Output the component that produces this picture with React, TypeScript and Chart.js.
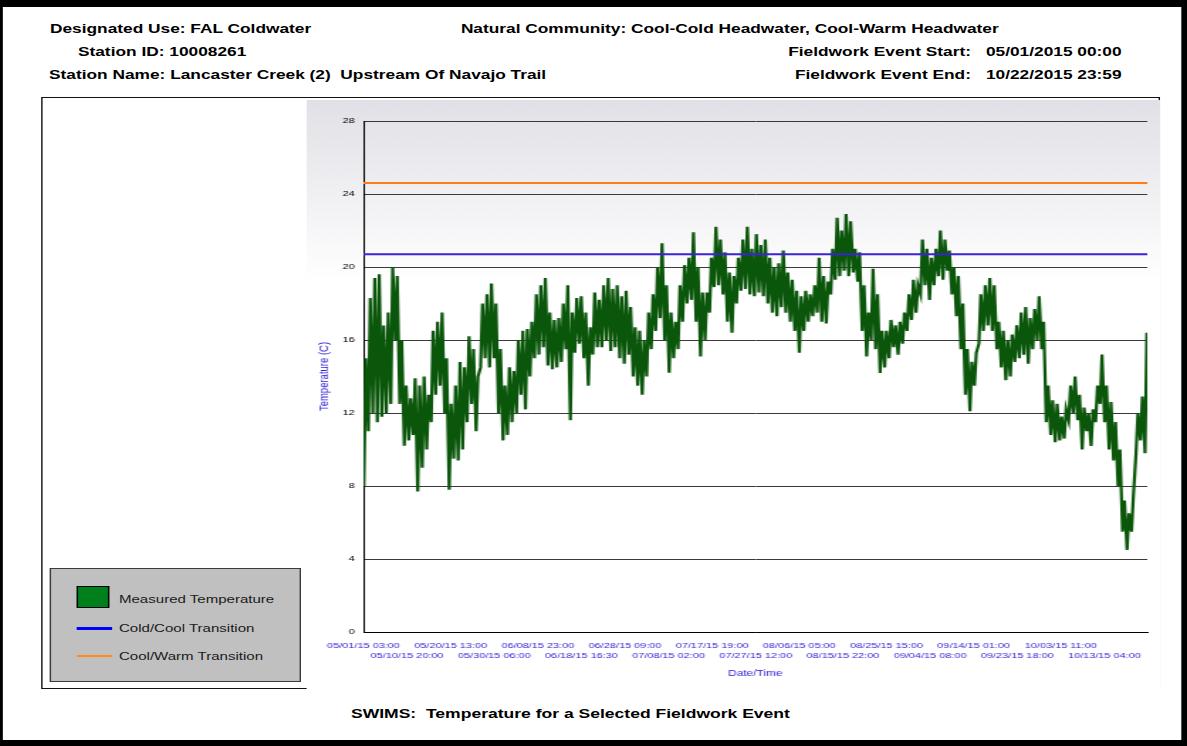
import React, { useEffect, useRef } from 'react';
import { Chart, registerables } from 'chart.js';

Chart.register(...registerables);

// Daily minimum / maximum water temperature (°C), one entry per day from 05/01/2015
const dailyLow = [
  8.0, 11.0, 12.0, 11.5, 11.8, 12.0, 12.5, 16.0, 12.5, 10.2,
  10.5, 10.8, 7.7, 9.0, 10.0, 11.5, 13.0, 13.5, 12.0, 7.8,
  9.5, 9.4, 10.0, 11.5, 12.5, 11.0, 14.5, 15.0, 14.5, 15.0,
  12.0, 10.5, 10.8, 11.5, 12.0, 13.0, 12.2, 14.0, 15.0, 15.2,
  15.6, 14.6, 14.4, 14.5, 14.8, 15.5, 11.6, 15.3, 15.8, 15.0,
  13.5, 15.2, 15.6, 15.6, 16.0, 15.4, 15.6, 15.0, 14.7, 15.2,
  14.0, 13.5, 13.0, 14.0, 15.5, 16.5, 17.2, 16.0, 14.2, 15.0,
  15.5, 17.0, 18.0, 18.2, 17.0, 15.1, 16.0, 17.5, 18.9, 19.0,
  18.5, 17.0, 16.4, 18.0, 18.7, 18.8, 18.5, 18.4, 18.6, 18.4,
  18.0, 17.5, 17.3, 17.8, 17.5, 17.0, 16.5, 15.3, 16.5, 17.0,
  17.3, 17.5, 17.0, 16.9, 18.5, 19.3, 19.5, 19.8, 19.5, 19.7,
  19.2, 16.5, 15.1, 16.0, 15.5, 14.2, 14.5, 15.0, 15.6, 15.2,
  15.8, 16.5, 17.1, 17.5, 18.5, 19.0, 18.2, 19.0, 19.5, 19.3,
  19.8, 18.5, 17.3, 15.5, 13.0, 12.1, 13.5, 15.8, 16.5, 16.8,
  16.5, 15.5, 14.5, 13.8, 14.0, 14.8, 15.0, 15.2, 14.7, 15.5,
  16.0, 15.5, 11.5, 10.8, 10.4, 10.5, 10.6, 11.6, 12.0, 11.6,
  10.0, 11.0, 10.2, 11.5, 12.5, 11.5, 10.0, 9.4, 8.0, 5.5,
  4.5, 5.5, 9.8, 10.5, 9.8,
];

const dailyHigh = [
  15.0, 18.3, 19.4, 19.6, 16.8, 17.5, 20.0, 19.5, 16.0, 13.5,
  12.8, 13.9, 13.5, 14.0, 13.0, 16.5, 17.0, 17.5, 15.0, 12.5,
  13.5, 14.8, 14.5, 16.2, 15.5, 14.0, 18.0, 18.5, 19.1, 18.0,
  15.5, 13.5, 14.5, 14.3, 16.0, 16.5, 16.6, 17.0, 18.5, 19.0,
  19.4, 17.5, 17.1, 17.2, 18.0, 19.0, 17.5, 18.3, 18.4, 17.5,
  16.7, 18.6, 18.2, 19.0, 19.4, 18.8, 19.0, 18.4, 18.7, 17.8,
  16.7, 16.5, 16.0, 17.5, 18.5, 20.0, 21.3, 19.0, 17.5, 17.0,
  19.0, 20.1, 20.5, 21.9, 20.0, 18.6, 18.6, 20.5, 22.2, 21.5,
  20.8, 19.7, 19.5, 20.5, 21.5, 22.2, 21.0, 21.8, 21.2, 21.5,
  20.5, 20.0, 20.2, 20.9, 19.7, 19.3, 18.7, 18.4, 18.7, 18.5,
  19.0, 20.5, 19.5, 19.2, 21.0, 22.7, 22.0, 22.9, 22.5, 21.0,
  20.8, 19.0, 17.5, 19.9, 18.5, 16.5, 16.5, 17.1, 16.8, 17.0,
  17.5, 18.5, 19.3, 19.0, 21.5, 21.0, 20.5, 21.0, 22.0, 21.5,
  20.9, 20.0, 19.5, 18.0, 15.5, 14.8, 15.3, 18.5, 19.0, 19.4,
  19.0, 17.0, 16.5, 16.0, 16.3, 16.8, 17.5, 17.8, 17.2, 17.7,
  18.4, 17.0, 13.5, 12.7, 12.5, 11.8, 12.2, 13.5, 14.0, 13.0,
  12.3, 12.0, 12.2, 13.5, 15.2, 13.5, 12.6, 11.5, 10.0, 7.2,
  6.5, 7.5, 12.0, 12.9, 16.4,
];

// Transition thresholds (°C)
const coldCoolTransition = 20.7;
const coolWarmTransition = 24.6;

// Time axis: hours elapsed since 05/01/15 03:00
const xEndHour = 4190;
const xTickHours = [0, 233, 466, 699, 932, 1165, 1398, 1631, 1864, 2097, 2330, 2563, 2796, 3029, 3262, 3495, 3728, 3961];
const xTickLabels = [
  '05/01/15 03:00', '05/10/15 20:00', '05/20/15 13:00', '05/30/15 06:00',
  '06/08/15 23:00', '06/18/15 16:30', '06/28/15 09:00', '07/08/15 02:00',
  '07/17/15 19:00', '07/27/15 12:00', '08/06/15 05:00', '08/15/15 22:00',
  '08/25/15 15:00', '09/04/15 08:00', '09/14/15 01:00', '09/23/15 18:00',
  '10/03/15 11:00', '10/13/15 04:00',
];

const FONT = "'Liberation Sans', Arial, Helvetica, sans-serif";
const AXIS_BLUE = '#2f1ed6';
const PAGE_W = 836;
const PAGE_H = 746;
const STRETCH = 1187 / PAGE_W;

const panelGradient = {
  id: 'panelGradient',
  beforeDraw(chart: any) {
    const { ctx, width, height } = chart;
    const g = ctx.createLinearGradient(0, 0, 0, 180);
    g.addColorStop(0, '#e0e0e6');
    g.addColorStop(1, '#ffffff');
    ctx.save();
    ctx.fillStyle = g;
    ctx.fillRect(0, 0, width, height);
    ctx.restore();
  },
};

function TemperatureChart() {
  const canvasRef = useRef<HTMLCanvasElement | null>(null);

  useEffect(() => {
    if (!canvasRef.current) return;
    // low reading early in the day, high reading in the afternoon
    const tempPoints = dailyLow.flatMap((lo, d) => [
      { x: d * 24 + 2, y: lo },
      { x: d * 24 + 12, y: dailyHigh[d] },
    ]);

    const chart = new Chart(canvasRef.current, {
      type: 'line',
      data: {
        datasets: [
          {
            label: 'Cold/Cool Transition',
            data: [{ x: 0, y: coldCoolTransition }, { x: xEndHour, y: coldCoolTransition }],
            borderColor: '#3b22d9',
            borderWidth: 2,
            pointRadius: 0,
          },
          {
            label: 'Cool/Warm Transition',
            data: [{ x: 0, y: coolWarmTransition }, { x: xEndHour, y: coolWarmTransition }],
            borderColor: '#ff7b1c',
            borderWidth: 2,
            pointRadius: 0,
          },
          {
            label: 'Measured Temperature',
            data: tempPoints,
            borderColor: '#0a560a',
            backgroundColor: '#00801a',
            borderWidth: 2.2,
            pointRadius: 0,
            tension: 0,
          },
        ],
      },
      options: {
        responsive: false,
        animation: false,
        layout: { padding: { top: 21, right: 9, left: 0, bottom: 0 } },
        plugins: { legend: { display: false }, tooltip: { enabled: false } },
        scales: {
          x: {
            type: 'linear',
            min: 0,
            max: xEndHour,
            afterBuildTicks: (s: any) => {
              s.ticks = xTickHours.map((v) => ({ value: v }));
            },
            afterFit: (s: any) => {
              s.height = 58;
            },
            grid: { display: false, drawTicks: false },
            border: { display: true, color: '#000', width: 1 },
            ticks: {
              autoSkip: false,
              maxRotation: 0,
              minRotation: 0,
              padding: 9,
              color: AXIS_BLUE,
              font: { family: FONT, size: 7.7, lineHeight: 1.3 },
              callback: (_v: any, i: number) =>
                i % 2 === 0 ? [xTickLabels[i], ''] : ['', xTickLabels[i]],
            },
            title: {
              display: true,
              text: 'Date/Time',
              color: AXIS_BLUE,
              font: { family: FONT, size: 8.4 },
              padding: { top: 0, bottom: 11 },
            },
          },
          y: {
            min: 0,
            max: 28,
            afterFit: (s: any) => {
              s.width = 40;
            },
            ticks: { stepSize: 4, padding: 6, color: '#000', font: { family: FONT, size: 7.9 } },
            grid: { color: '#3a3a3a', lineWidth: 1, drawTicks: false },
            border: { display: true, color: '#000', width: 1 },
            title: {
              display: true,
              text: 'Temperature (C)',
              color: AXIS_BLUE,
              font: { family: FONT, size: 9.5 },
              padding: { top: 7, bottom: 0 },
            },
          },
        },
      },
      plugins: [panelGradient],
    } as any);

    return () => chart.destroy();
  }, []);

  return (
    <canvas
      ref={canvasRef}
      width={601}
      height={590}
      style={{ position: 'absolute', left: 216, top: 100, width: 601, height: 590 }}
    />
  );
}

const headerStyle = (left: number, cy: number, size = 12.2): React.CSSProperties => ({
  position: 'absolute',
  left,
  top: cy - 7,
  height: 14,
  lineHeight: '14px',
  fontFamily: FONT,
  fontWeight: 'bold',
  fontSize: size,
  color: '#000',
  whiteSpace: 'pre',
});

const rightHeaderStyle = (rightEdge: number, cy: number): React.CSSProperties => ({
  position: 'absolute',
  right: PAGE_W - rightEdge,
  top: cy - 7,
  height: 14,
  lineHeight: '14px',
  fontFamily: FONT,
  fontWeight: 'bold',
  fontSize: 12.2,
  color: '#000',
  whiteSpace: 'pre',
  textAlign: 'right',
});

const legendText = (cy: number): React.CSSProperties => ({
  position: 'absolute',
  left: 83.8,
  top: cy - 7,
  lineHeight: '14px',
  fontFamily: FONT,
  fontSize: 10.6,
  color: '#1a1a1a',
  whiteSpace: 'pre',
});

export default function App() {
  useEffect(() => {
    document.documentElement.style.overflow = 'hidden';
    document.body.style.overflow = 'hidden';
  }, []);

  return (
    <div
      style={{
        position: 'absolute',
        left: 0,
        top: 0,
        width: PAGE_W,
        height: PAGE_H,
        background: '#fff',
        transform: `scaleX(${STRETCH})`,
        transformOrigin: '0 0',
        overflow: 'hidden',
      }}
    >
      {/* outer frame */}
      <div style={{ position: 'absolute', left: 0, top: 0, width: PAGE_W, height: 7, background: '#000' }} />
      <div style={{ position: 'absolute', left: 0, top: PAGE_H - 6, width: PAGE_W, height: 6, background: '#000' }} />
      <div style={{ position: 'absolute', left: 0, top: 0, width: 2.2, height: PAGE_H, background: '#000' }} />
      <div style={{ position: 'absolute', left: PAGE_W - 4.5, top: 0, width: 4.5, height: PAGE_H, background: '#000' }} />

      {/* header */}
      <div style={headerStyle(35.2, 29)}>Designated Use: FAL Coldwater</div>
      <div style={headerStyle(54.9, 52)}>Station ID: 10008261</div>
      <div style={headerStyle(34.5, 75)}>Station Name: Lancaster Creek (2)  Upstream Of Navajo Trail</div>
      <div style={headerStyle(324.6, 29)}>Natural Community: Cool-Cold Headwater, Cool-Warm Headwater</div>
      <div style={rightHeaderStyle(683.8, 52)}>Fieldwork Event Start:</div>
      <div style={headerStyle(694.4, 52)}>05/01/2015 00:00</div>
      <div style={rightHeaderStyle(683.8, 75)}>Fieldwork Event End:</div>
      <div style={headerStyle(694.4, 75)}>10/22/2015 23:59</div>

      {/* chart frame */}
      <div
        style={{
          position: 'absolute',
          left: 28.9,
          top: 97,
          width: 788,
          height: 592,
          border: '1px solid #111',
          boxSizing: 'border-box',
        }}
      />

      <TemperatureChart />

      {/* legend */}
      <div
        style={{
          position: 'absolute',
          left: 34.5,
          top: 568,
          width: 177.5,
          height: 114,
          background: '#c0c0c0',
          border: '1px solid #3c3c3c',
          boxSizing: 'border-box',
        }}
      />
      <div
        style={{
          position: 'absolute',
          left: 54.2,
          top: 586,
          width: 22.5,
          height: 22,
          background: '#00801a',
          border: '1px solid #000',
          boxSizing: 'border-box',
        }}
      />
      <div style={legendText(599)}>Measured Temperature</div>
      <div style={{ position: 'absolute', left: 54.2, top: 626.5, width: 24.6, height: 3, background: '#0000ff' }} />
      <div style={legendText(628)}>Cold/Cool Transition</div>
      <div style={{ position: 'absolute', left: 54.2, top: 655, width: 24.6, height: 2, background: '#ff8c1a' }} />
      <div style={legendText(656)}>Cool/Warm Transition</div>

      {/* footer title */}
      <div style={headerStyle(247.2, 714, 12.35)}>SWIMS:  Temperature for a Selected Fieldwork Event</div>
    </div>
  );
}
